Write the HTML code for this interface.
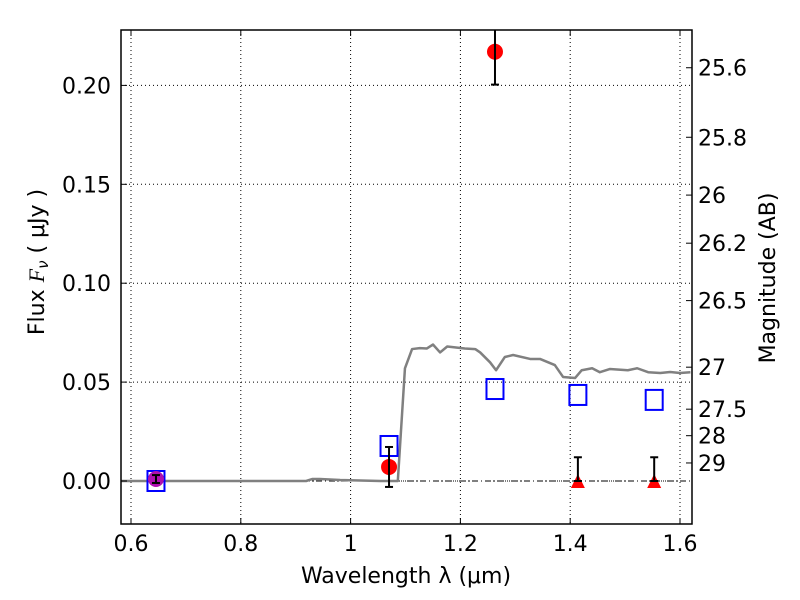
<!DOCTYPE html>
<html><head><meta charset="utf-8"><style>
body{margin:0;background:#fff;}
svg{display:block;font-family:"DejaVu Sans","Liberation Sans",sans-serif;}
</style></head><body>
<svg id="chart" width="800" height="600" viewBox="0 0 800 600">
<rect x="0" y="0" width="800" height="600" fill="#fff"/>
<g id="grid"></g>
<g id="marks"></g>
<g id="axes"></g>
</svg>
<script>
const modelLambda=[0.582,0.919,0.930,0.944,0.981,1.054,1.086,1.099,1.112,1.126,1.139,1.150,1.163,1.176,1.208,1.227,1.236,1.254,1.265,1.281,1.296,1.327,1.345,1.372,1.387,1.409,1.421,1.440,1.454,1.472,1.505,1.522,1.542,1.564,1.582,1.600,1.619];
const modelFlux=[0,0,0.001,0.001,0.0005,0,0,0.057,0.0667,0.0672,0.067,0.069,0.065,0.068,0.067,0.0667,0.065,0.060,0.056,0.0627,0.0637,0.0617,0.0617,0.0586,0.0526,0.0521,0.056,0.057,0.055,0.0566,0.056,0.057,0.055,0.0546,0.0551,0.0546,0.055];
const detLambda=[0.6455,1.070,1.263];
const detFlux=[0.001,0.0071,0.217];
const detErr=[0.002,0.0101,0.0166];
const detColor=["#b010b0","red","red"];
const limLambda=[1.414,1.553];
const limFlux=[0,0];
const limErr=[0.012,0.012];
const modelBandLambda=[0.6455,1.070,1.263,1.414,1.553];
const modelBandFlux=[0.0,0.0177,0.0465,0.0435,0.041];
const xTicks=[0.6,0.8,1.0,1.2,1.4,1.6];
const xTickLabels=["0.6","0.8","1","1.2","1.4","1.6"];
const yTicks=[0,0.05,0.10,0.15,0.20];
const yTickLabels=["0.00","0.05","0.10","0.15","0.20"];
const magTicks=[25.6,25.8,26,26.2,26.5,27,27.5,28,29];
const magTickLabels=["25.6","25.8","26","26.2","26.5","27","27.5","28","29"];

const L=121,R=692,T=30,B=524;
const X=v=>131+(v-0.6)*549;
const Y=v=>481-v*1978;
const NS="http://www.w3.org/2000/svg";
function mk(parent,tag,attrs,text){const e=document.createElementNS(NS,tag);for(const k in attrs)e.setAttribute(k,attrs[k]);if(text!==undefined)e.textContent=text;document.getElementById(parent).appendChild(e);return e;}

const defs=document.createElementNS(NS,"defs");
defs.innerHTML='<clipPath id="pc"><rect x="'+L+'" y="'+T+'" width="'+(R-L)+'" height="'+(B-T)+'"/></clipPath>';
document.getElementById("chart").prepend(defs);
document.getElementById("marks").setAttribute("clip-path","url(#pc)");

xTicks.forEach(t=>{const g=mk("grid","line",{x1:X(t),x2:X(t),y1:T,y2:B,stroke:"#000","stroke-width":1,"stroke-dasharray":"1,3"});

});
yTicks.forEach(t=>{const g=mk("grid","line",{x1:L,x2:R,y1:Y(t),y2:Y(t),stroke:"#000","stroke-width":1,"stroke-dasharray":"1,3"});

});
const z=mk("marks","line",{x1:L,x2:R,y1:Y(0),y2:Y(0),stroke:"#000","stroke-width":1,"stroke-dasharray":"6,3,1,3"});



const pl=mk("marks","polyline",{points:modelLambda.map((l,i)=>X(l)+","+Y(modelFlux[i])).join(" "),fill:"none",stroke:"#808080","stroke-width":2.5,"stroke-linejoin":"round"});



modelBandLambda.forEach((l,i)=>{const s=mk("marks","rect",{x:X(l)-8.5,y:Y(modelBandFlux[i])-10,width:17,height:20,fill:"none",stroke:"#0000ff","stroke-width":2});

});

function errbar(x,lo,hi){
 mk("marks","line",{x1:x,x2:x,y1:Y(lo),y2:Y(hi),stroke:"#000","stroke-width":2});
 [lo,hi].forEach(v=>mk("marks","line",{x1:x-4,x2:x+4,y1:Y(v),y2:Y(v),stroke:"#000","stroke-width":2}));
}
detLambda.forEach((l,i)=>{const c=mk("marks","circle",{cx:X(l),cy:Y(detFlux[i]),r:8,fill:detColor[i]});


errbar(X(l),detFlux[i]-detErr[i],detFlux[i]+detErr[i]);});
limLambda.forEach((l,i)=>{const x=X(l),y=Y(limFlux[i]);
const t=mk("marks","polygon",{points:(x-7)+","+(y+7)+" "+(x+7)+","+(y+7)+" "+x+","+(y-7),fill:"red"});


errbar(x,limFlux[i],limFlux[i]+limErr[i]);});

const fr=mk("axes","rect",{x:L,y:T,width:R-L,height:B-T,fill:"none",stroke:"#000","stroke-width":1.5});


xTicks.forEach((t,i)=>{mk("axes","line",{x1:X(t),x2:X(t),y1:B,y2:B-6,stroke:"#000"});mk("axes","line",{x1:X(t),x2:X(t),y1:T,y2:T+6,stroke:"#000"});
const lb=mk("axes","text",{x:X(t),y:B+27,"text-anchor":"middle","font-size":22},xTickLabels[i]);

});
yTicks.forEach((t,i)=>{mk("axes","line",{x1:L,x2:L+6,y1:Y(t),y2:Y(t),stroke:"#000"});
const lb=mk("axes","text",{x:L-10,y:Y(t)+8,"text-anchor":"end","font-size":22},yTickLabels[i]);

});
magTicks.forEach((m,i)=>{const y=Y(Math.pow(10,(23.9-m)/2.5));
mk("axes","line",{x1:R,x2:R-6,y1:y,y2:y,stroke:"#000"});
const lb=mk("axes","text",{x:R+6,y:y+8,"font-size":22},magTickLabels[i]);

});

const xt=mk("axes","text",{x:406,y:583,"text-anchor":"middle","font-size":22},"Wavelength  λ (μm)");


const yt=mk("axes","text",{x:0,y:0,"text-anchor":"middle","font-size":22,transform:"translate(44,262) rotate(-90)"});
yt.innerHTML='Flux  <tspan font-style="italic" font-family="Liberation Serif, serif">F</tspan><tspan font-style="italic" font-size="15" dy="4">ν</tspan><tspan dy="-4">  (  μJy  )</tspan>';


const rt=mk("axes","text",{x:0,y:0,"text-anchor":"middle","font-size":22,transform:"translate(775,278) rotate(-90)"},"Magnitude (AB)");


</script>
</body></html>
